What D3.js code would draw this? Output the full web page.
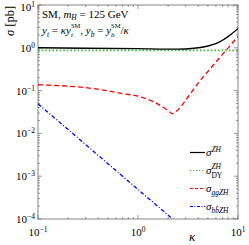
<!DOCTYPE html>
<html>
<head>
<meta charset="utf-8">
<script src="https://cdn.jsdelivr.net/npm/d3@7"></script>
<style>
  body { margin: 0; background: #fff; }
  svg text { font-family: "Liberation Serif", "DejaVu Serif", serif; fill: #000; }
</style>
</head>
<body>
<div id="chart"></div>
<script>
// values
const kappaTotal = [0.1, 0.3, 1, 2, 3, 4, 5, 6, 7, 8, 10]
const sigmaTotal = [1.0, 0.98, 0.955, 0.93, 0.94, 1.0, 1.1, 1.25, 1.5, 1.85, 2.8]

const kappaDY = [0.1, 1, 10]
const sigmaDY = [0.875, 0.875, 0.875]

const kappaGG = [0.1, 0.2, 0.3, 0.5, 0.7, 1, 1.5, 2, 2.2, 2.5, 3, 4, 5, 7, 10]
const sigmaGG = [0.137, 0.127, 0.117, 0.099, 0.085, 0.074, 0.052, 0.034, 0.029, 0.035, 0.06, 0.15, 0.28, 0.7, 1.84]

const kappaBB = [0.1, 0.2, 0.5, 1, 2, 2.5]
const sigmaBB = [0.049, 0.0123, 0.00196, 0.00049, 0.000123, 0.0000785]

const xTicks = [0.1, 1, 10]
const xTickExp = ["\u22121", "0", "1"]
const yTicks = [1e-4, 1e-3, 1e-2, 1e-1, 1, 10]
const yTickExp = ["\u22124", "\u22123", "\u22122", "\u22121", "0", "1"]

const width = 249
const height = 245
const margin = {left: 38, right: 11, top: 5, bottom: 26}

const svg = d3.select("#chart").append("svg")
    .attr("width", width)
    .attr("height", height)

const x = d3.scaleLog().domain([0.1, 10]).range([margin.left, width - margin.right])
const y = d3.scaleLog().domain([1e-4, 10]).range([height - margin.bottom, margin.top])

const x0 = x.range()[0], x1 = x.range()[1]
const y0 = y.range()[0], y1 = y.range()[1]

// minor ticks
const minorX = []
for (let d = 0.1; d < 10; d *= 10)
    for (let k = 2; k <= 9; k++) minorX.push(d * k)
const minorY = []
for (let d = 1e-4; d < 10; d *= 10)
    for (let k = 2; k <= 9; k++) minorY.push(d * k)

const tickG = svg.append("g").attr("stroke", "#555").attr("stroke-width", 0.6)
xTicks.forEach(t => {
    tickG.append("line").attr("x1", x(t)).attr("x2", x(t)).attr("y1", y0).attr("y2", y0 - 4)
    tickG.append("line").attr("x1", x(t)).attr("x2", x(t)).attr("y1", y1).attr("y2", y1 + 4)
})
minorX.forEach(t => {
    tickG.append("line").attr("x1", x(t)).attr("x2", x(t)).attr("y1", y0).attr("y2", y0 - 2)
    tickG.append("line").attr("x1", x(t)).attr("x2", x(t)).attr("y1", y1).attr("y2", y1 + 2)
})
yTicks.forEach(t => {
    tickG.append("line").attr("y1", y(t)).attr("y2", y(t)).attr("x1", x0).attr("x2", x0 + 4)
    tickG.append("line").attr("y1", y(t)).attr("y2", y(t)).attr("x1", x1).attr("x2", x1 - 4)
})
minorY.forEach(t => {
    tickG.append("line").attr("y1", y(t)).attr("y2", y(t)).attr("x1", x0).attr("x2", x0 + 2)
    tickG.append("line").attr("y1", y(t)).attr("y2", y(t)).attr("x1", x1).attr("x2", x1 - 2)
})

// frame
svg.append("rect")
    .attr("x", x0).attr("y", y1)
    .attr("width", x1 - x0).attr("height", y0 - y1)
    .attr("fill", "none").attr("stroke", "#666").attr("stroke-width", 0.8)

// tick labels
xTicks.forEach((t, i) => {
    const txt = svg.append("text")
        .attr("x", x(t)).attr("y", y0 + 17)
        .attr("text-anchor", "middle")
        .style("font-size", "11px")
    txt.append("tspan").text("10")
    txt.append("tspan").attr("dy", -4.5).style("font-size", "7.5px").text(xTickExp[i])
})
yTicks.forEach((t, i) => {
    const txt = svg.append("text")
        .attr("x", x0 - 3).attr("y", Math.max(y(t) + 4, 11))
        .attr("text-anchor", "end")
        .style("font-size", "11px")
    txt.append("tspan").text("10")
    txt.append("tspan").attr("dy", -4).style("font-size", "7.5px").text(yTickExp[i])
})

// axis labels
svg.append("text")
    .attr("transform", `translate(14,21) rotate(-90)`)
    .attr("text-anchor", "middle")
    .style("font-size", "12.5px")
    .html('<tspan font-style="italic">σ</tspan> [pb]')

svg.append("text")
    .attr("x", 192).attr("y", 241)
    .attr("text-anchor", "middle")
    .style("font-size", "13px")
    .style("font-style", "italic")
    .text("κ")

// stacks a sub-script under the super-script just written
const stack = (txt) => {
    txt.selectAll("tspan.sup").each(function() {
        const w = this.getComputedTextLength()
        const sub = this.nextSibling
        const ws = sub.getComputedTextLength()
        sub.setAttribute("dx", -w)
        const after = sub.nextSibling
        if (after) after.setAttribute("dx", Math.max(w - ws, 0))
    })
}

// annotation
svg.append("text")
    .attr("x", x0 + 4).attr("y", 18)
    .style("font-size", "11px")
    .html('SM, <tspan font-style="italic">m</tspan><tspan font-style="italic" font-size="7.5px" dy="2">H</tspan><tspan dy="-2"> = 125 GeV</tspan>')
const ann2 = svg.append("text")
    .attr("x", x0 + 4).attr("y", 34)
    .style("font-size", "11px")
    .html('<tspan font-style="italic">y</tspan><tspan font-style="italic" font-size="7.5px" dy="2.5">t</tspan>'
        + '<tspan dy="-2.5"> = </tspan><tspan font-style="italic">κy</tspan>'
        + '<tspan class="sup" font-size="6.5px" dy="-6">SM</tspan><tspan font-style="italic" font-size="7px" dy="9">t</tspan>'
        + '<tspan dy="-3">, </tspan><tspan font-style="italic">y</tspan><tspan font-style="italic" font-size="7.5px" dy="2.5">b</tspan>'
        + '<tspan dy="-2.5"> = </tspan><tspan font-style="italic">y</tspan>'
        + '<tspan class="sup" font-size="6.5px" dy="-6">SM</tspan><tspan font-style="italic" font-size="7px" dy="9">b</tspan>'
        + '<tspan dy="-3">/</tspan><tspan font-style="italic">κ</tspan>')
stack(ann2)

// curves
svg.append("clipPath").attr("id", "clip")
    .append("rect").attr("x", x0).attr("y", y1).attr("width", x1 - x0).attr("height", y0 - y1)

const line = d3.line()
    .x(d => x(d[0]))
    .y(d => y(d[1]))
    .curve(d3.curveMonotoneX)

const plot = svg.append("g").attr("clip-path", "url(#clip)")

const series = [
    {k: kappaDY, s: sigmaDY, color: "#3db83d", width: 1.8, dash: "1.6,2"},
    {k: kappaTotal, s: sigmaTotal, color: "#000", width: 1.4, dash: null},
    {k: kappaGG, s: sigmaGG, color: "#ff0000", width: 1.3, dash: "5,3"},
    {k: kappaBB, s: sigmaBB, color: "#0000ff", width: 1.3, dash: "4,2,1,2"}
]
series.forEach(sr => {
    plot.append("path")
        .datum(sr.k.map((k, i) => [k, sr.s[i]]))
        .attr("d", line)
        .attr("fill", "none")
        .attr("stroke", sr.color)
        .attr("stroke-width", sr.width)
        .attr("stroke-dasharray", sr.dash)
})

// legend
const legend = [
    {color: "#000", dash: null, w: 1.2, label: '<tspan font-style="italic">σ</tspan><tspan font-style="italic" font-size="7.5px" dy="-4.5">ZH</tspan>'},
    {color: "#3db83d", dash: "1.2,1.8", w: 1.2, label: '<tspan font-style="italic">σ</tspan><tspan class="sup" font-style="italic" font-size="7.5px" dy="-5">ZH</tspan><tspan font-size="7.5px" dy="9">DY</tspan>'},
    {color: "#ff0000", dash: "3,2", w: 1, label: '<tspan font-style="italic">σ</tspan><tspan font-style="italic" font-size="7.5px" dy="2.5">ggZH</tspan>'},
    {color: "#0000ff", dash: "3,1.5,1,1.5", w: 1, label: '<tspan font-style="italic">σ</tspan><tspan font-style="italic" font-size="7.5px" dy="2.5">bb̄ZH</tspan>'}
]
const legY = [152.5, 170.5, 188.5, 206.5]
legend.forEach((l, i) => {
    svg.append("line")
        .attr("x1", 190).attr("x2", 205)
        .attr("y1", legY[i]).attr("y2", legY[i])
        .attr("stroke", l.color).attr("stroke-width", l.w)
        .attr("stroke-dasharray", l.dash)
    const t = svg.append("text")
        .attr("x", 206).attr("y", legY[i] + 3.5)
        .style("font-size", "11px")
        .html(l.label)
    stack(t)
})
</script>
</body>
</html>
